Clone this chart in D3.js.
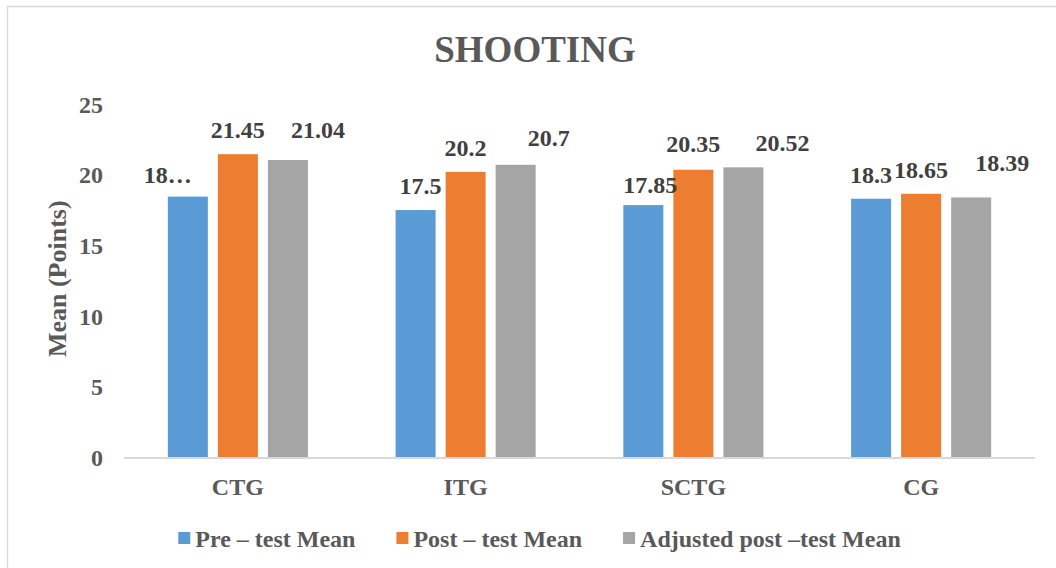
<!DOCTYPE html>
<html>
<head>
<meta charset="utf-8">
<script src="https://cdn.jsdelivr.net/npm/d3@7/dist/d3.min.js"></script>
<style>
  html, body { margin: 0; padding: 0; background: #ffffff; }
  svg { display: block; }
  text { font-family: "Liberation Serif", "Times New Roman", serif; font-weight: bold; }
</style>
</head>
<body>
<svg id="chart" width="1056" height="568"></svg>
<script>
// Group means per training group
const categories = ["CTG", "ITG", "SCTG", "CG"];
const seriesNames = ["Pre – test Mean", "Post – test Mean", "Adjusted post –test Mean"];
const preTest = [18.45, 17.5, 17.85, 18.3];
const postTest = [21.45, 20.2, 20.35, 18.65];
const adjustedPostTest = [21.04, 20.7, 20.52, 18.39];
const valueLabels = [
  ["18…", "17.5", "17.85", "18.3"],
  ["21.45", "20.2", "20.35", "18.65"],
  ["21.04", "20.7", "20.52", "18.39"]
];
const yTicks = [0, 5, 10, 15, 20, 25];

const seriesValues = [preTest, postTest, adjustedPostTest];
const colors = ["#5b9bd5", "#ed7d31", "#a5a5a5"];

// Hand-placed label nudges [dx, dy] per series, per category
const labelNudge = [
  [[-20, 2], [5, 0], [7, 4], [0, 0]],
  [[0, 0], [0, 0], [0, -2], [0, 0]],
  [[30, -6], [33, -3], [39, 0], [31, -10]]
];

const svg = d3.select("#chart");

// Outer chart frame
svg.append("rect")
  .attr("x", 7.5).attr("y", 6.5)
  .attr("width", 1070).attr("height", 580)
  .attr("fill", "#ffffff")
  .attr("stroke", "#d9d9d9").attr("stroke-width", 1.5);

const plot = { left: 124, right: 1035, top: 104, bottom: 457.5 };

const x0 = d3.scaleBand().domain(categories).range([plot.left, plot.right]).padding(0);
const groupWidth = x0.bandwidth() * 0.615;
const x1 = d3.scaleBand().domain(d3.range(seriesNames.length)).range([0, groupWidth]).paddingInner(0.2);
const y = d3.scaleLinear().domain([0, 25]).range([plot.bottom, plot.top]);

// Title
svg.append("text")
  .attr("x", 535).attr("y", 62)
  .attr("text-anchor", "middle")
  .attr("font-size", 37)
  .attr("fill", "#595959")
  .text("SHOOTING");

// Y axis (labels only)
const yAxis = d3.axisLeft(y).tickValues(yTicks).tickSize(0).tickPadding(0).tickFormat(d3.format("d"));
const yAxisG = svg.append("g")
  .attr("transform", `translate(103,0)`)
  .call(yAxis);
yAxisG.select(".domain").remove();
yAxisG.selectAll("text")
  .attr("font-size", 24)
  .attr("font-family", "Liberation Serif, Times New Roman, serif")
  .attr("font-weight", "bold")
  .attr("fill", "#595959")
  .attr("dy", "0.34em");

// Y axis title
svg.append("text")
  .attr("transform", `translate(66,${(plot.top + plot.bottom) / 2 - 2}) rotate(-90)`)
  .attr("text-anchor", "middle")
  .attr("font-size", 26)
  .attr("fill", "#595959")
  .text("Mean (Points)");

// Bars
const groups = svg.append("g").selectAll("g")
  .data(categories)
  .join("g")
  .attr("transform", d => `translate(${x0(d) + (x0.bandwidth() - groupWidth) / 2},0)`);

groups.selectAll("rect")
  .data((c, ci) => seriesValues.map((vals, si) => ({ si, ci, v: vals[ci] })))
  .join("rect")
  .attr("x", d => x1(d.si))
  .attr("y", d => y(d.v))
  .attr("width", x1.bandwidth())
  .attr("height", d => y(0) - y(d.v))
  .attr("fill", d => colors[d.si]);

// Data labels
groups.selectAll("text.val")
  .data((c, ci) => seriesValues.map((vals, si) => ({ si, ci, v: vals[ci] })))
  .join("text")
  .attr("class", "val")
  .attr("x", d => x1(d.si) + x1.bandwidth() / 2 + labelNudge[d.si][d.ci][0])
  .attr("y", d => y(d.v) - 16 + labelNudge[d.si][d.ci][1])
  .attr("text-anchor", "middle")
  .attr("font-size", 24)
  .attr("fill", "#404040")
  .text(d => valueLabels[d.si][d.ci]);

// Category axis line
svg.append("line")
  .attr("x1", plot.left).attr("x2", plot.right)
  .attr("y1", y(0) + 0.5).attr("y2", y(0) + 0.5)
  .attr("stroke", "#d9d9d9").attr("stroke-width", 2);

// Category labels
svg.append("g").selectAll("text")
  .data(categories)
  .join("text")
  .attr("x", d => x0(d) + x0.bandwidth() / 2)
  .attr("y", 495)
  .attr("text-anchor", "middle")
  .attr("font-size", 24)
  .attr("fill", "#595959")
  .text(d => d);

// Legend
const legend = svg.append("g");
const items = legend.selectAll("g")
  .data(seriesNames)
  .join("g");
items.append("rect")
  .attr("width", 12).attr("height", 12)
  .attr("y", 532)
  .attr("fill", (d, i) => colors[i]);
items.append("text")
  .attr("y", 547)
  .attr("font-size", 24)
  .attr("fill", "#595959")
  .text(d => d);

const itemGap = 41;
const widths = [];
items.each(function () {
  widths.push(12 + 5 + d3.select(this).select("text").node().getComputedTextLength());
});
const total = d3.sum(widths) + itemGap * (widths.length - 1);
let cursor = 539.5 - total / 2;
items.each(function (d, i) {
  const g = d3.select(this);
  g.select("rect").attr("x", cursor);
  g.select("text").attr("x", cursor + 17);
  cursor += widths[i] + itemGap;
});
</script>
</body>
</html>
